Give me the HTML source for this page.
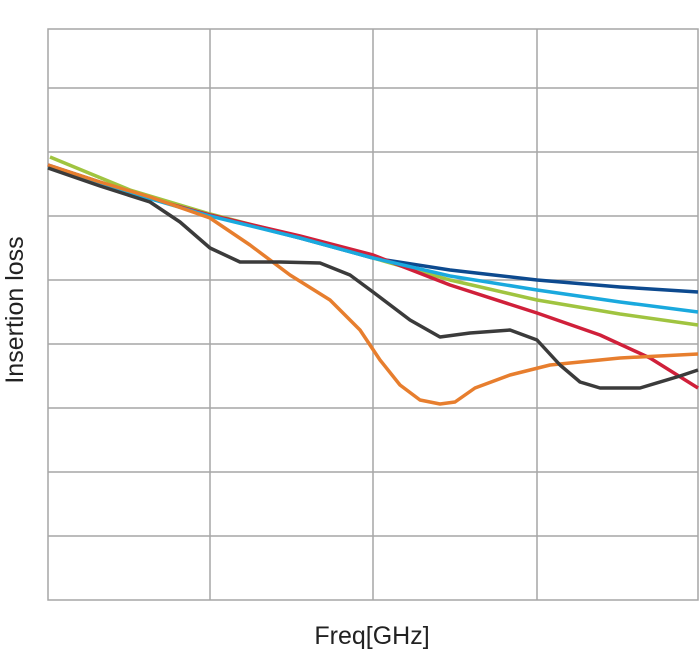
<!DOCTYPE html>
<html><head><style>body{margin:0;background:#fff}</style></head><body>
<svg width="700" height="651" xmlns="http://www.w3.org/2000/svg" font-family="Liberation Sans, sans-serif">
<g stroke="#a6a6a6" stroke-width="1.5" fill="none">
<rect x="48" y="29" width="650" height="571"/>
<line x1="48" y1="88" x2="698" y2="88"/><line x1="48" y1="152" x2="698" y2="152"/>
<line x1="48" y1="216" x2="698" y2="216"/><line x1="48" y1="280" x2="698" y2="280"/>
<line x1="48" y1="344" x2="698" y2="344"/><line x1="48" y1="408" x2="698" y2="408"/>
<line x1="48" y1="472" x2="698" y2="472"/><line x1="48" y1="536" x2="698" y2="536"/>
<line x1="210" y1="29" x2="210" y2="600"/><line x1="373" y1="29" x2="373" y2="600"/>
<line x1="537" y1="29" x2="537" y2="600"/>
</g>
<g fill="none" stroke-width="3.5" stroke-linejoin="round">
<polyline stroke="#0d4a8f" points="48,165 130,192 210,215 300,238 373,258 450,270 537,280 620,287 698,292"/>
<polyline stroke="#a0c440" points="50,157 130,190 210,214 300,237 373,258 450,280 537,300 620,314 698,325"/>
<polyline stroke="#d0203a" points="48,165 130,193 210,215 300,236 373,255 450,285 537,313 600,335 650,358 698,388"/>
<polyline stroke="#1aa9de" points="48,167 130,193 210,216 300,238 373,258 450,276 537,290 620,302 698,312"/>
<polyline stroke="#e77e2e" points="48,165 100,182 150,197 210,218 250,245 290,275 330,300 360,330 380,360 400,385 420,400 440,404 455,402 475,388 510,375 550,365 620,358 698,354"/>
<polyline stroke="#3b3b3b" points="48,168 100,186 150,202 180,222 210,248 240,262 280,262 320,263 350,275 373,292 410,320 440,337 470,333 510,330 537,340 560,365 580,382 600,388 640,388 680,376 698,370"/>
</g>
<text x="372" y="644" font-size="25" text-anchor="middle" fill="#222">Freq[GHz]</text>
<text transform="translate(23,310) rotate(-90)" font-size="25" text-anchor="middle" fill="#222">Insertion loss</text>
</svg>
</body></html>
